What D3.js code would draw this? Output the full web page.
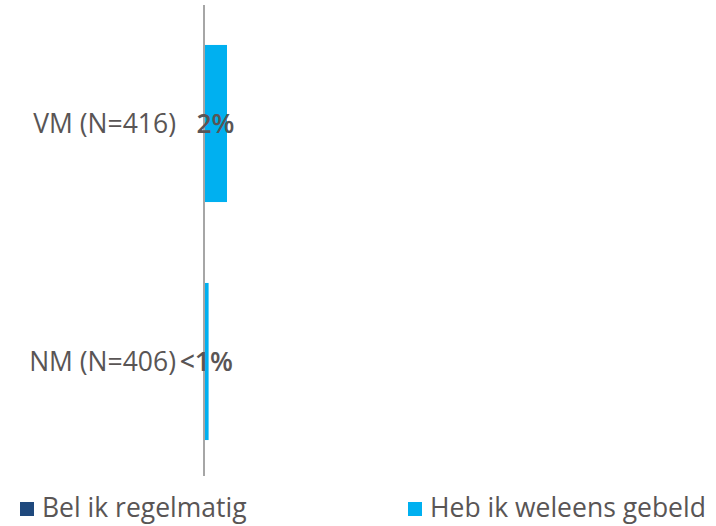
<!DOCTYPE html>
<html>
<head>
<meta charset="utf-8">
<script src="https://cdn.jsdelivr.net/npm/d3@7"></script>
<style>
  html, body { margin: 0; padding: 0; background: #fff; }
  svg { display: block; font-family: "Open Sans", sans-serif; }
</style>
</head>
<body>
<svg id="chart" width="716" height="526"></svg>
<script>
// Categories and stacked series (shares of respondents)
const categories = ["VM (N=416)", "NM (N=406)"];
const seriesNames = ["Bel ik regelmatig", "Heb ik weleens gebeld"];
const belRegelmatig = [0, 0];
const weleensGebeld = [2, 0.4];
const valueLabels = ["2%", "<1%"];
const seriesColors = ["#1F497D", "#00B0F0"];

const textColor = "#595555";
const fontSize = 26.5;
const svg = d3.select("#chart");
const margin = { left: 204, right: 6, top: 5, bottom: 50 };
const width = 716, height = 526;

const x = d3.scaleLinear().domain([0, 44]).range([margin.left, width - margin.right]);
const y = d3.scaleBand().domain(categories).range([4.5, 480.5]).paddingInner(0.34).paddingOuter(0.17);

const rows = categories.map((c, i) => ({ cat: c, [seriesNames[0]]: belRegelmatig[i], [seriesNames[1]]: weleensGebeld[i] }));
const stacked = d3.stack().keys(seriesNames)(rows);

svg.append("g").selectAll("g")
  .data(stacked)
  .join("g")
  .attr("fill", (d, i) => seriesColors[i])
  .selectAll("rect")
  .data(d => d)
  .join("rect")
  .attr("x", d => x(d[0]))
  .attr("width", d => x(d[1]) - x(d[0]))
  .attr("y", d => y(d.data.cat))
  .attr("height", y.bandwidth());

// Category axis line
svg.append("line")
  .attr("x1", x(0)).attr("x2", x(0))
  .attr("y1", margin.top).attr("y2", height - margin.bottom)
  .attr("stroke", "#A6A6A6").attr("stroke-width", 2);

// Category labels
svg.append("g").selectAll("text")
  .data(categories)
  .join("text")
  .attr("x", 176)
  .attr("y", d => y(d) + y.bandwidth() / 2)
  .attr("dy", "0.35em")
  .attr("text-anchor", "end")
  .attr("fill", textColor)
  .attr("font-size", fontSize)
  .text(d => d);

// Value labels centred on the stacked segments
svg.append("g").selectAll("text")
  .data(categories)
  .join("text")
  .attr("x", (d, i) => x(belRegelmatig[i] + weleensGebeld[i] / 2))
  .attr("y", d => y(d) + y.bandwidth() / 2)
  .attr("dy", "0.35em")
  .attr("text-anchor", "middle")
  .attr("fill", textColor)
  .attr("font-size", fontSize)
  .attr("font-weight", 600)
  .text((d, i) => valueLabels[i]);

// Legend
const legendX = [20, 408];
const legend = svg.append("g").selectAll("g")
  .data(seriesNames)
  .join("g")
  .attr("transform", (d, i) => `translate(${legendX[i]},502)`);
legend.append("rect").attr("width", 14).attr("height", 14).attr("fill", (d, i) => seriesColors[i]);
legend.append("text")
  .attr("x", 22).attr("y", 15)
  .attr("fill", textColor).attr("font-size", fontSize)
  .text(d => d);
</script>
</body>
</html>
